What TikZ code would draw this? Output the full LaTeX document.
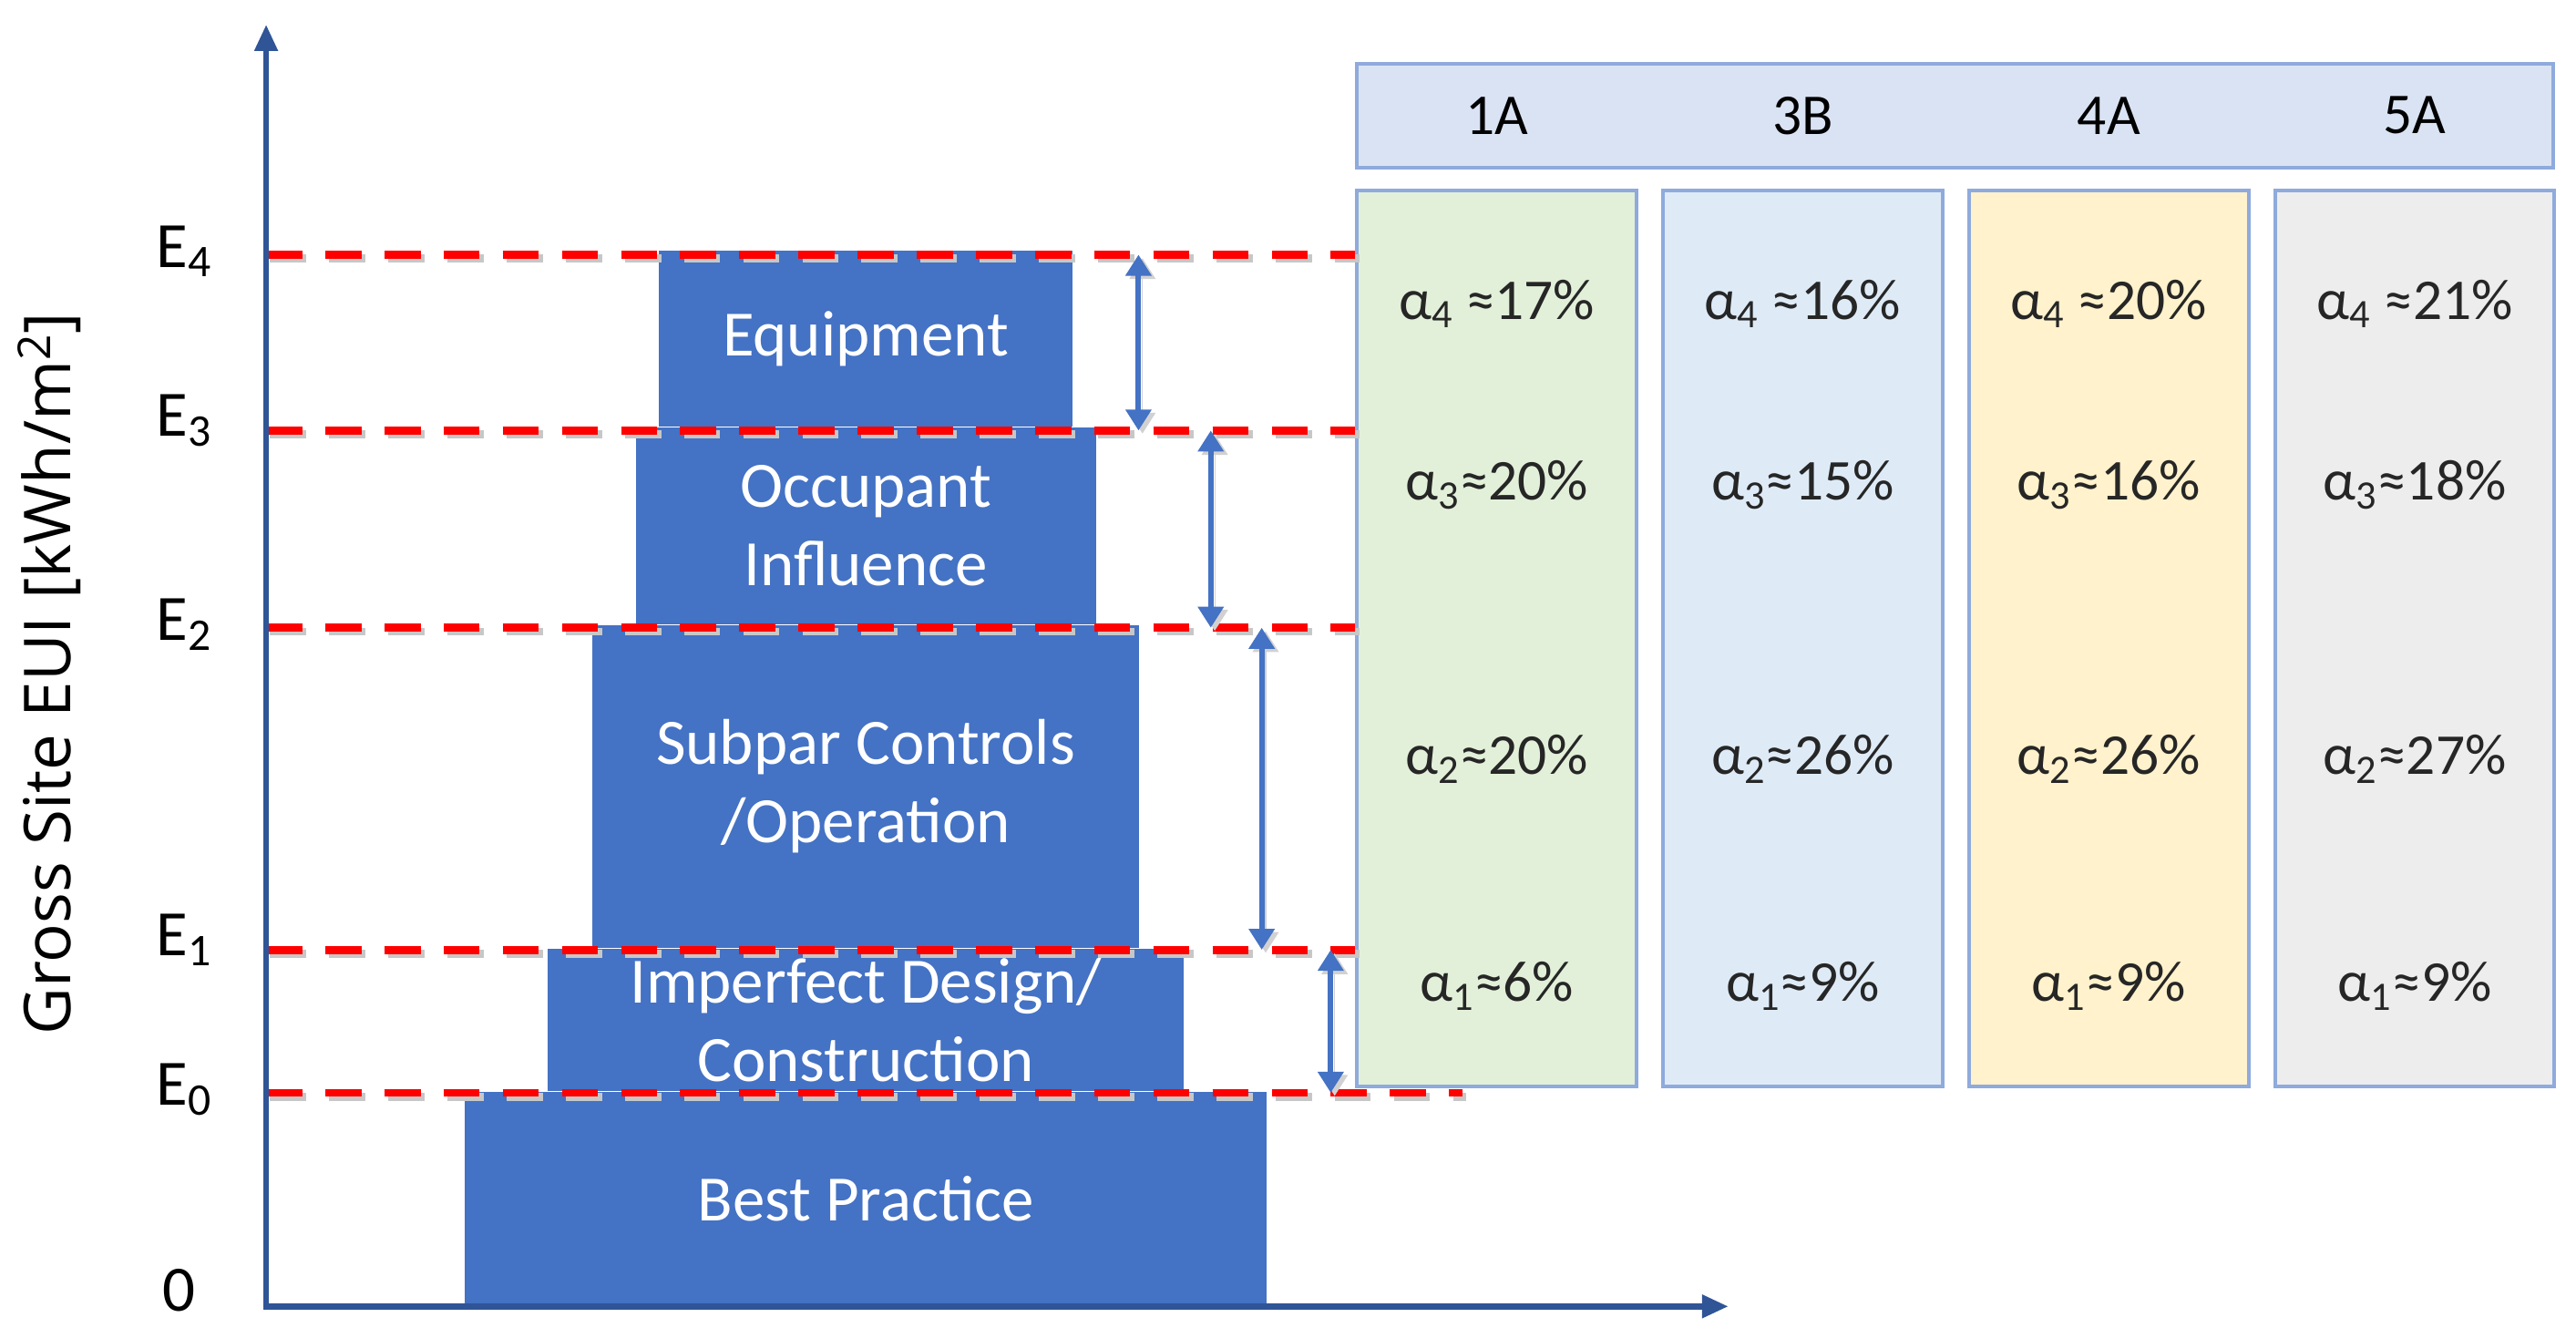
\documentclass[tikz,border=0pt]{standalone}
\usepackage{fontspec}
\setmainfont{Carlito}
\newfontfamily\labelfont{Open Sans}
\usetikzlibrary{arrows.meta,positioning}
\definecolor{blockblue}{HTML}{4472C4}
\definecolor{axisblue}{HTML}{2F5597}
\definecolor{hdrfill}{HTML}{DAE3F3}
\definecolor{colborder}{HTML}{8FAADC}
\definecolor{fillA}{HTML}{E2F0D9}
\definecolor{fillB}{HTML}{DEEBF7}
\definecolor{fillC}{HTML}{FFF2CC}
\definecolor{fillD}{HTML}{EDEDED}
\definecolor{txtgray}{HTML}{262626}

\begin{document}
\begin{tikzpicture}[x=0.25mm,y=0.25mm,
  blk/.style={fill=blockblue,text=white,align=center,
    font=\fontsize{28}{34}\selectfont,inner sep=0pt},
  colbox/.style={draw=colborder,line width=1.6pt,
    minimum width=42.5mm,minimum height=136.25mm,inner sep=0pt},
  hdrbox/.style={draw=colborder,fill=hdrfill,line width=1.6pt,
    minimum width=182mm,minimum height=15.75mm,inner sep=0pt},
  hdr/.style={font=\fontsize{25}{30}\selectfont},
  pct/.style={font=\fontsize{25}{30}\selectfont,text=txtgray},
  tick/.style={font=\fontsize{28}{34}\selectfont},
  level/.style={red,line width=3.5pt,dash pattern=on 5.5mm off 3.5mm,
    preaction={draw=black!22,line width=3.5pt,dash pattern=on 5.5mm off 3.5mm,
      transform canvas={shift={(0.6mm,-0.6mm)}}}},
  span/.style={blockblue,line width=2.4pt,
    {Triangle[length=3.2mm,width=3.8mm]}-{Triangle[length=3.2mm,width=3.8mm]},
    preaction={draw=black!18,transform canvas={shift={(0.6mm,-0.5mm)}}}},
  axis/.style={axisblue,line width=2.5pt,
    {Triangle[length=4mm,width=3.4mm]}-{Triangle[length=4mm,width=3.4mm]}}]
\useasboundingbox (0,0) rectangle (1568,814);

% axis levels
\coordinate (origin) at (162,19);
\coordinate (ytop) at (162,799);
\coordinate (xend) at (1052,19);
\coordinate (e4) at (162,659);
\coordinate (e3) at (162,552);
\coordinate (e2) at (162,432);
\coordinate (e1) at (162,236);
\coordinate (e0) at (162,149);
\coordinate (e0end) at (890,149);

% stacked blocks
\node[blk,minimum width=122mm,minimum height=32.5mm,anchor=south](best) at (527,19){Best Practice};
\node[blk,above=0pt of best,minimum width=96.75mm,minimum height=21.75mm](design){Imperfect Design/\\Construction};
\node[blk,above=0pt of design,minimum width=83.25mm,minimum height=49mm](controls){Subpar Controls\\/Operation};
\node[blk,above=0pt of controls,minimum width=70mm,minimum height=30mm](occupant){Occupant\\Influence};
\node[blk,above=0pt of occupant,minimum width=63mm,minimum height=26.75mm](equip){Equipment};

% climate zone columns
\node[colbox,fill=fillA,anchor=north west](colA) at (825,699){};
\node[colbox,fill=fillB,right=3.5mm of colA](colB){};
\node[colbox,fill=fillC,right=3.5mm of colB](colC){};
\node[colbox,fill=fillD,right=3.5mm of colC](colD){};
\node[hdrbox,anchor=south west](hdr) at ([yshift=3mm]colA.north west){};
\node[hdr] at (colA |- hdr){1A};
\node[hdr] at (colB |- hdr){3B};
\node[hdr] at (colC |- hdr){4A};
\node[hdr] at (colD |- hdr){5A};

\draw[level](e4)--(e4 -| colA.west);
\draw[level](e3)--(e3 -| colA.west);
\draw[level](e2)--(e2 -| colA.west);
\draw[level](e1)--(e1 -| colA.west);
\draw[level](e0)--(e0end);

\draw[axis](ytop)--(origin)--(xend);
\node[tick,left=7mm of e4,yshift=0.5mm]{E\textsubscript{4}};
\node[tick,left=7mm of e3,yshift=1.5mm]{E\textsubscript{3}};
\node[tick,left=7mm of e2,yshift=0.5mm]{E\textsubscript{2}};
\node[tick,left=7mm of e1,yshift=1.5mm]{E\textsubscript{1}};
\node[tick,left=7mm of e0,yshift=0.5mm]{E\textsubscript{0}};
\node[tick,left=9.5mm of origin,yshift=2.5mm]{0};
\node[rotate=90,font=\labelfont\fontsize{28}{32}\selectfont](ylab) at (30,404){Gross Site EUI [kWh/m\textsuperscript{2}]};

\draw[span](e4 -| 693,0)--(e3 -| 693,0);
\draw[span](e3 -| 737,0)--(e2 -| 737,0);
\draw[span](e2 -| 768,0)--(e1 -| 768,0);
\draw[span](e1 -| 810,0)--(e0 -| 810,0);

% shares per zone
\coordinate (r4) at (0,629);
\coordinate (r3) at (0,519);
\coordinate (r2) at (0,352);
\coordinate (r1) at (0,214);
\node[pct] at (colA |- r4){α\textsubscript{4} ≈17\%};
\node[pct] at (colB |- r4){α\textsubscript{4} ≈16\%};
\node[pct] at (colC |- r4){α\textsubscript{4} ≈20\%};
\node[pct] at (colD |- r4){α\textsubscript{4} ≈21\%};
\node[pct] at (colA |- r3){α\textsubscript{3}≈20\%};
\node[pct] at (colB |- r3){α\textsubscript{3}≈15\%};
\node[pct] at (colC |- r3){α\textsubscript{3}≈16\%};
\node[pct] at (colD |- r3){α\textsubscript{3}≈18\%};
\node[pct] at (colA |- r2){α\textsubscript{2}≈20\%};
\node[pct] at (colB |- r2){α\textsubscript{2}≈26\%};
\node[pct] at (colC |- r2){α\textsubscript{2}≈26\%};
\node[pct] at (colD |- r2){α\textsubscript{2}≈27\%};
\node[pct] at (colA |- r1){α\textsubscript{1}≈6\%};
\node[pct] at (colB |- r1){α\textsubscript{1}≈9\%};
\node[pct] at (colC |- r1){α\textsubscript{1}≈9\%};
\node[pct] at (colD |- r1){α\textsubscript{1}≈9\%};
\end{tikzpicture}
\end{document}
